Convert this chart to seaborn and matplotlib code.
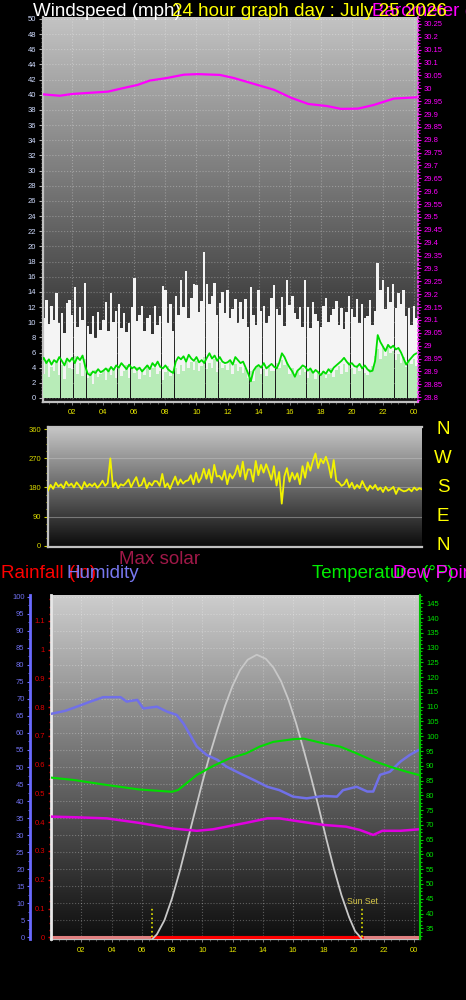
import numpy as np
import matplotlib
matplotlib.use("Agg")
import matplotlib.pyplot as plt
import matplotlib.ticker as mticker
from matplotlib.transforms import blended_transform_factory
import seaborn as sns

# ---------------- data ----------------
# Wind (mph), 10-minute samples starting 00:00
wind_gust = [
    14.7, 10.5, 12.9, 9.8, 12.1, 10.3,
    13.8, 9.9, 11.2, 8.6, 12.5, 12.9,
    11.0, 14.6, 9.4, 12.0, 10.3, 15.2,
    9.5, 8.5, 10.8, 7.9, 11.4, 9.0,
    10.3, 12.6, 8.8, 13.8, 10.0, 11.5,
    12.4, 9.2, 11.2, 8.7, 9.9, 12.0,
    15.8, 10.2, 11.0, 12.1, 8.9, 10.6,
    11.0, 8.4, 12.2, 9.6, 10.8, 14.8,
    14.2, 9.9, 12.4, 8.8, 13.4, 11.0,
    15.5, 12.0, 16.7, 10.5, 13.2, 15.0,
    14.9, 11.4, 12.8, 19.3, 15.0, 12.4,
    13.4, 15.2, 10.9, 12.5, 14.0, 11.2,
    14.3, 10.6, 11.8, 13.0, 9.9, 12.6,
    10.4, 13.1, 9.3, 14.6, 11.0, 9.6,
    14.2, 11.5, 12.1, 9.9, 10.8, 13.2,
    14.9, 11.8, 11.0, 13.3, 9.5, 15.6,
    12.3, 13.5, 11.2, 10.4, 12.0, 9.4,
    15.6, 12.0, 9.2, 12.6, 11.1, 10.2,
    9.3, 12.1, 13.2, 10.0, 10.9, 11.7,
    12.8, 9.6, 11.9, 9.1, 11.4, 13.5,
    11.8, 10.7, 13.1, 9.9, 12.4, 10.6,
    10.8, 12.9, 9.6, 11.5, 17.8, 14.2,
    15.5, 11.7, 14.6, 12.6, 15.0, 11.9,
    13.9, 12.4, 14.3, 10.8, 11.9, 9.6,
    12.2, 10.5,
]
wind_speed = [
    4.5, 3.2, 5.0, 2.8, 4.1, 3.6,
    4.8, 3.0, 4.4, 2.5, 5.2, 4.0,
    3.8, 5.5, 3.1, 4.6, 2.9, 5.1,
    2.6, 3.4, 1.9, 3.7, 2.8, 3.1,
    3.5, 2.4, 4.0, 3.0, 3.8, 2.6,
    4.2, 2.9, 3.6, 4.4, 2.7, 3.9,
    3.3, 4.1, 2.5, 3.8, 3.0, 4.3,
    2.8, 3.9, 4.5, 3.1, 3.6, 2.4,
    3.4, 4.2, 2.9, 3.6, 4.0, 3.2,
    4.4, 3.5, 5.1, 3.9, 4.8, 3.7,
    4.9, 3.6, 4.2, 5.4, 3.8, 4.6,
    4.0, 5.2, 3.4, 4.7, 3.9, 4.4,
    3.7, 4.8, 3.2, 4.5, 3.6, 4.1,
    3.3, 4.0, 2.7, 3.5, 2.2, 3.9,
    4.2, 3.1, 3.8, 2.9, 4.4, 3.6,
    3.5, 4.6, 3.9, 5.0, 4.3, 4.8,
    3.2, 4.0, 2.8, 3.6, 3.0, 3.9,
    3.4, 2.7, 3.8, 3.1, 2.5, 3.6,
    2.9, 3.5, 2.6, 3.2, 3.9, 2.8,
    3.7, 4.2, 3.1, 4.5, 3.4, 4.8,
    3.9, 3.2, 4.4, 3.6, 4.1, 3.3,
    3.0, 3.8, 4.2, 5.6, 6.4, 5.2,
    6.8, 5.5, 7.1, 5.9, 6.2, 5.0,
    5.8, 4.6, 5.4, 4.1, 5.0, 4.5,
    5.2, 4.2,
]
wind_avg = [
    4.8, 5.3, 4.6, 5.1, 4.4, 5.0,
    4.7, 5.4, 4.9, 4.3, 5.2, 4.8,
    5.3, 4.6, 5.4, 5.0, 5.6, 4.2,
    3.2, 3.0, 3.5, 3.3, 3.8, 3.4,
    3.6, 3.9, 3.5, 4.1, 3.7, 4.3,
    4.0, 4.6, 4.2, 3.8, 4.4, 3.9,
    4.1, 3.7, 4.0, 3.5, 3.9, 4.3,
    3.8, 4.6, 4.2, 4.8, 4.1, 3.9,
    4.3, 3.8, 3.5, 3.3, 4.8, 5.4,
    5.1, 5.5, 4.8, 5.7, 5.2, 4.9,
    5.4, 4.7, 5.0, 4.6, 5.3, 5.9,
    5.2, 5.6, 4.9, 5.4, 4.8, 4.6,
    4.7, 5.0, 4.4, 5.4, 5.0, 4.6,
    4.8, 4.0, 3.2, 2.2, 3.6, 4.1,
    4.35, 4.0, 4.6, 3.9, 4.2, 4.5,
    4.1, 3.9, 4.7, 5.9, 5.4, 4.6,
    4.0, 3.5, 2.8, 3.6, 3.9, 4.3,
    4.1, 3.6, 3.9, 3.3, 3.7, 3.4,
    3.0, 3.5, 3.2, 3.8, 3.4, 4.0,
    4.3, 4.6, 4.9, 5.3, 4.8, 4.4,
    4.6, 4.2, 4.1, 4.5, 3.9, 4.3,
    3.8, 3.5, 3.6, 4.9, 8.3, 7.4,
    6.8, 6.2, 7.0, 6.6, 6.9, 6.4,
    6.6, 6.0, 5.2, 4.4, 4.9, 5.3,
    5.7, 5.9,
]

# Barometer (inHg)
baro_hours = [0, 1.2, 2, 4.3, 5.3, 6.2, 7, 8.1, 9.2, 10.1, 11.5, 12.4, 13.7,
              15, 16.1, 17.2, 18.4, 19.3, 20.4, 21.4, 22.7, 24.2]
baro_inhg = [29.977, 29.971, 29.978, 29.987, 30.001, 30.013, 30.030, 30.040,
             30.053, 30.055, 30.052, 30.040, 30.017, 29.994, 29.963, 29.939,
             29.931, 29.920, 29.921, 29.935, 29.960, 29.965]

# Wind direction (degrees), 10-minute samples starting 00:00
wind_dir = [
    170, 188, 176, 195, 183, 190,
    178, 198, 185, 192, 180, 196,
    186, 175, 197, 182, 191, 184,
    193, 179, 188, 201, 185, 194,
    270, 182, 196, 178, 190, 186,
    194, 205, 181, 198, 212, 184,
    188, 209, 178, 195, 186, 200,
    199, 185, 222, 181, 193, 176,
    196, 214, 188, 205, 192, 200,
    202, 218, 190, 226, 196, 210,
    238, 207, 236, 195, 250, 214,
    216, 204, 232, 190, 222, 208,
    222, 248, 214, 260, 205, 236,
    235, 198, 262, 218, 250, 226,
    252, 230, 204, 246, 186, 228,
    130, 214, 240, 198, 226, 205,
    224, 190, 246, 210, 258, 232,
    262, 285, 240, 268, 255, 275,
    250, 210, 265, 200, 196, 185,
    190, 205, 180, 195, 176, 188,
    178, 200, 183, 170, 186, 176,
    188, 172, 180, 166, 182, 170,
    175, 182, 160, 178, 172, 168,
    170, 176, 168, 180, 172, 178,
    174,
]

# Humidity (%)
hum_hours = [0, 0.95, 1.7, 2.6, 3.45, 4.6, 5.0, 5.7, 6.1, 7.0, 7.7, 8.3, 8.75,
             9.2, 9.64, 10.3, 11.0, 11.6, 12.5, 13.4, 14.3, 15.1, 16.0, 16.9,
             18.0, 18.9, 19.3, 20.2, 20.9, 21.3, 21.75, 22.4, 23.1, 23.7, 24.3]
hum_values = [65.6, 66.5, 67.7, 69.2, 70.5, 70.5, 69.2, 69.7, 67.2, 67.7, 66.2,
              65.3, 62.8, 59.4, 56.0, 53.5, 52.1, 50.1, 48.1, 46.2, 44.2, 43.2,
              41.3, 40.8, 41.5, 41.3, 43.2, 44.2, 42.8, 42.8, 47.7, 48.6, 51.6,
              53.5, 55.0]

# Temperature (°F)
temp_hours = [0, 1.5, 3.7, 5.8, 8.0, 8.4, 9.64, 10.7, 11.8, 12.9, 13.8, 14.7,
              16.0, 16.7, 18.0, 19.1, 20.2, 21.3, 22.4, 23.5, 24.3]
temp_values = [86.0, 85.2, 83.5, 82.0, 81.2, 81.8, 86.9, 89.9, 92.5, 94.2, 96.5,
               98.1, 99.0, 99.2, 97.6, 96.5, 94.2, 91.7, 89.7, 88.0, 86.9]

# Dew point (°F)
dew_hours = [0, 1.5, 3.7, 5.8, 8.0, 9.64, 10.7, 11.8, 12.9, 14.3, 15.1, 16.5,
             18.0, 19.5, 20.4, 21.3, 21.9, 23.1, 24.3]
dew_values = [72.8, 72.6, 72.2, 70.7, 68.8, 68.0, 68.5, 69.6, 70.7, 72.2, 72.2,
              71.1, 70.0, 69.4, 68.3, 66.6, 68.0, 68.0, 68.5]

# Max solar (W/m2)
solar_hours = [6.7, 7.0, 7.5, 8.0, 8.5, 9.0, 9.5, 10.0, 10.5, 11.0, 11.5, 12.0,
               12.5, 13.0, 13.6, 14.2, 14.7, 15.2, 15.7, 16.2, 16.7, 17.2, 17.7,
               18.2, 18.7, 19.2, 19.7, 20.1, 20.55]
solar_values = [0, 15, 60, 130, 215, 310, 405, 500, 590, 670, 745, 810, 860, 893,
                909, 896, 868, 825, 765, 690, 605, 515, 420, 320, 225, 140, 70,
                25, 0]

# Rainfall (in)
rain_hours = [0, 24.4]
rain_values = [0, 0]
rain_day_hours = [6.7, 20.55]
rain_day_values = [0, 0]

sunrise_hour = 6.7
sunset_hour = 20.55

hour_ticks = [2, 4, 6, 8, 10, 12, 14, 16, 18, 20, 22, 24]
hour_tick_labels = ['02', '04', '06', '08', '10', '12', '14', '16', '18', '20', '22', '00']
compass_labels = ['N', 'W', 'S', 'E', 'N']
compass_degrees = [360, 270, 180, 90, 0]

# ---------------- style ----------------
sns.set_style("ticks")
plt.rcParams['font.family'] = ['Liberation Sans', 'DejaVu Sans']
plt.rcParams['axes.unicode_minus'] = False

PT = 0.72  # points per pixel at 100 dpi
W, H = 466, 1000

fig = plt.figure(figsize=(4.66, 10), dpi=100, facecolor='black')


def box(l, t, r, b):
    return [l / W, 1 - b / H, (r - l) / W, (b - t) / H]


def gradient(ax, top, bottom):
    t = np.linspace(0, 1, 256)[:, None]
    top = np.array(top) / 255.0
    bottom = np.array(bottom) / 255.0
    img = (top * (1 - t) + bottom * t).reshape(256, 1, 3)
    ax.imshow(img, extent=(0, 1, 0, 1), transform=ax.transAxes, aspect='auto',
              zorder=0, interpolation='bilinear')


def hide_spines(ax, sides):
    for s in sides:
        ax.spines[s].set_visible(False)


TICKFS = 5.5

# ================= Panel 1: wind + barometer =================
ax1 = fig.add_axes(box(43, 17, 418, 402))
ax1.set_facecolor('black')
gradient(ax1, (195, 195, 195), (20, 20, 20))
wind_hours = np.arange(len(wind_gust)) / 6.0
ax1.bar(wind_hours, wind_gust, width=0.158, color='#f4f4f4', linewidth=0, zorder=2)
ax1.bar(wind_hours, wind_speed, width=0.158, color='#b8ecb8', linewidth=0, zorder=3)
sns.lineplot(x=wind_hours, y=wind_avg, ax=ax1, color='#00dd00', linewidth=1.3,
             estimator=None, sort=False, zorder=4)
ax1.set_xlim(0.12, 24.26)
ax1.set_ylim(-0.53, 50.26)
ax1.set_yticks(np.arange(0, 51, 2))
ax1.yaxis.set_minor_locator(mticker.MultipleLocator(0.5))
ax1.set_xticks(hour_ticks)
ax1.set_xticklabels(hour_tick_labels)
ax1.xaxis.set_minor_locator(mticker.MultipleLocator(0.5))
ax1.tick_params(axis='y', which='major', length=4 * PT, width=0.8, color='#b0b0b0',
                labelcolor='#d0dcff', labelsize=TICKFS, pad=3 * PT)
ax1.tick_params(axis='y', which='minor', length=2.5 * PT, width=0.6, color='#909090')
ax1.tick_params(axis='x', which='major', length=3 * PT, width=0.6, color='#909090',
                labelcolor='#e8e800', labelsize=TICKFS, pad=4 * PT)
ax1.tick_params(axis='x', which='minor', length=2 * PT, width=0.5, color='#808080')
ax1.grid(True, which='major', color='white', alpha=0.28, linestyle=':', linewidth=0.8)
ax1.set_axisbelow(True)
ax1.set_xlabel('')
ax1.set_ylabel('')
hide_spines(ax1, ['top', 'right'])
for s in ['left', 'bottom']:
    ax1.spines[s].set_color('#c0c0c0')
    ax1.spines[s].set_linewidth(1.6)

ax1b = ax1.twinx()
sns.lineplot(x=baro_hours, y=baro_inhg, ax=ax1b, color='#ff00ff', linewidth=1.6,
             estimator=None, sort=False)
ax1b.set_ylim(28.781, 30.277)
ax1b.set_yticks(np.round(np.arange(28.8, 30.2501, 0.05), 2))
ax1b.yaxis.set_major_formatter(
    mticker.FuncFormatter(lambda v, p: f"{v:.2f}".rstrip('0').rstrip('.')))
ax1b.yaxis.set_minor_locator(mticker.MultipleLocator(0.0125))
ax1b.tick_params(axis='y', which='major', length=3 * PT, width=0.8, color='#ff00ff',
                 labelcolor='#ff00ff', labelsize=TICKFS, pad=3 * PT)
ax1b.tick_params(axis='y', which='minor', length=1.5 * PT, width=0.6, color='#ff00ff')
ax1b.set_ylabel('')
hide_spines(ax1b, ['top', 'left', 'bottom'])
ax1b.spines['right'].set_color('#ff40ff')
ax1b.spines['right'].set_linestyle(':')
ax1b.spines['right'].set_linewidth(1.2)

# ================= Panel 2: wind direction =================
ax2 = fig.add_axes(box(48, 427, 422, 547))
ax2.set_facecolor('black')
gradient(ax2, (200, 200, 200), (10, 10, 10))
dir_hours = np.arange(len(wind_dir)) / 6.0
sns.lineplot(x=dir_hours, y=wind_dir, ax=ax2, color='#f2f200', linewidth=1.3,
             estimator=None, sort=False, zorder=3)
ax2.set_xlim(0, 24)
ax2.set_ylim(-4, 367)
ax2.set_yticks([0, 90, 180, 270, 360])
ax2.yaxis.set_minor_locator(mticker.MultipleLocator(22.5))
ax2.set_xticks([])
ax2.tick_params(axis='y', which='major', length=4 * PT, width=0.8, color='#d0d000',
                labelcolor='#d8d800', labelsize=TICKFS, pad=3 * PT)
ax2.tick_params(axis='y', which='minor', length=2.5 * PT, width=0.8, color='#c0c000')
for v in [90, 180, 270]:
    ax2.axhline(v, color='#c8c8c8', alpha=0.45, linewidth=0.8, zorder=1)
ax2.set_xlabel('')
ax2.set_ylabel('')
hide_spines(ax2, ['right'])
for s in ['left', 'bottom', 'top']:
    ax2.spines[s].set_color('#c0c0c0')
    ax2.spines[s].set_linewidth(1.6)
tr = blended_transform_factory(fig.transFigure, ax2.transData)
for lab, deg in zip(compass_labels, compass_degrees):
    ax2.text(443 / W, deg, lab, transform=tr, color='#ffff00', fontsize=13.5,
             ha='center', va='center', clip_on=False)

# ================= Panel 3: humidity / rain / temperature =================
ax3 = fig.add_axes(box(51, 595, 420, 939))
ax3.set_facecolor('black')
gradient(ax3, (205, 205, 205), (14, 14, 14))
ax3.set_xlim(0, 24.39)
ax3.set_ylim(-0.5, 100.5)
ax3.set_yticks(np.arange(0, 101, 5))
ax3.yaxis.set_minor_locator(mticker.MultipleLocator(2.5))
ax3.set_xticks(hour_ticks)
ax3.set_xticklabels(hour_tick_labels)
ax3.xaxis.set_minor_locator(mticker.MultipleLocator(0.5))
ax3.grid(True, which='major', color='white', alpha=0.28, linestyle=':', linewidth=0.8)
ax3.set_axisbelow(True)
ax3.tick_params(axis='y', which='major', length=3.5 * PT, width=0.8, color='#6a6aff',
                labelcolor='#7070f0', labelsize=TICKFS, pad=2 * PT)
ax3.tick_params(axis='y', which='minor', length=2 * PT, width=0.6, color='#6a6aff')
ax3.tick_params(axis='x', which='major', length=3 * PT, width=0.6, color='#909090',
                labelcolor='#e8e800', labelsize=TICKFS, pad=5 * PT)
ax3.tick_params(axis='x', which='minor', length=2 * PT, width=0.5, color='#808080')
ax3.spines['left'].set_position(('outward', 21 * PT))
ax3.spines['left'].set_color('#6a6aff')
ax3.spines['left'].set_linewidth(2)
ax3.spines['bottom'].set_color('#c0c0c0')
ax3.spines['bottom'].set_linewidth(1.6)
hide_spines(ax3, ['top', 'right'])
ax3.set_xlabel('')
ax3.set_ylabel('')

# rain axis (plot edge, red)
ax3r = ax3.twinx()
ax3r.yaxis.tick_left()
ax3r.yaxis.set_label_position('left')
ax3r.set_ylim(-0.006, 1.19)
ax3r.set_yticks(np.round(np.arange(0, 1.101, 0.1), 1))
ax3r.yaxis.set_major_formatter(
    mticker.FuncFormatter(lambda v, p: f"{v:.1f}".rstrip('0').rstrip('.')))
ax3r.yaxis.set_minor_locator(mticker.MultipleLocator(0.025))
ax3r.tick_params(axis='y', which='major', length=3 * PT, width=1.0, color='#e00000',
                 labelcolor='#e00000', labelsize=TICKFS, pad=3 * PT)
ax3r.tick_params(axis='y', which='minor', length=2.5 * PT, width=1.0, color='#e00000')
hide_spines(ax3r, ['top', 'right', 'bottom'])
ax3r.spines['left'].set_color('#e8e8e8')
ax3r.spines['left'].set_linewidth(2)
sns.lineplot(x=rain_hours, y=rain_values, ax=ax3r, color='#e08080', linewidth=2.2,
             estimator=None, sort=False)
sns.lineplot(x=rain_day_hours, y=rain_day_values, ax=ax3r, color='#ff0000',
             linewidth=2.2, estimator=None, sort=False)
for hsun in [sunrise_hour, sunset_hour]:
    ax3r.axvline(hsun, ymin=0.006, ymax=0.096, color='#e8e800', linestyle=':',
                 linewidth=1.2)
ax3r.set_ylabel('')

# solar (hidden axis)
ax3s = ax3.twinx()
sns.lineplot(x=solar_hours, y=solar_values, ax=ax3s, color='#c8c8c8', linewidth=1.3,
             estimator=None, sort=False)
ax3s.set_ylim(0, 1100)
ax3s.set_yticks([])
ax3s.set_ylabel('')
hide_spines(ax3s, ['top', 'right', 'bottom', 'left'])

# humidity line on its own twin so it is drawn above the grid
ax3h = ax3.twinx()
sns.lineplot(x=hum_hours, y=hum_values, ax=ax3h, color='#7070e8', linewidth=1.8,
             estimator=None, sort=False)
ax3h.set_ylim(-0.5, 100.5)
ax3h.set_yticks([])
ax3h.set_ylabel('')
hide_spines(ax3h, ['top', 'right', 'bottom', 'left'])

# temperature axis (right, green)
ax3t = ax3.twinx()
sns.lineplot(x=temp_hours, y=temp_values, ax=ax3t, color='#00dd00', linewidth=1.5,
             estimator=None, sort=False)
sns.lineplot(x=dew_hours, y=dew_values, ax=ax3t, color='#e000e0', linewidth=1.8,
             estimator=None, sort=False)
ax3t.set_ylim(31.38, 147.8)
ax3t.set_yticks(np.arange(35, 146, 5))
ax3t.yaxis.set_minor_locator(mticker.MultipleLocator(1.25))
ax3t.tick_params(axis='y', which='major', length=3 * PT, width=0.8, color='#00d000',
                 labelcolor='#00e000', labelsize=TICKFS, pad=3 * PT)
ax3t.tick_params(axis='y', which='minor', length=1.5 * PT, width=0.8, color='#00d000')
hide_spines(ax3t, ['top', 'left', 'bottom'])
ax3t.spines['right'].set_color('#00c000')
ax3t.spines['right'].set_linewidth(1.5)
ax3t.set_ylabel('')
ax3.set_xlim(0, 24.39)

# ---------------- titles ----------------
TFS = 13.5
def ftext(x, y, s, color, size=TFS):
    fig.text(x / W, 1 - y / H, s, color=color, fontsize=size, ha='left', va='center')

ftext(33, 12, 'Windspeed (mph)', 'white')
ftext(372, 12, 'Barometer (inHg)', '#ff00ff')
ftext(172, 12, '24 hour graph day : July 25 2026', '#ffff00')
ftext(119, 560, 'Max solar', '#a01848')
ftext(1, 573, 'Rainfall (in)', '#ff0000')
ftext(66, 573, 'Humidity', '#7878f0')
ftext(312, 573, 'Temperature (°F)', '#00ee00')
ftext(393, 573, 'Dew Point (°F)', '#ff00ff')
ftext(347, 902, 'Sun Set', '#d8c848', size=6.3)

fig.savefig('out.png', dpi=100, facecolor='black')
